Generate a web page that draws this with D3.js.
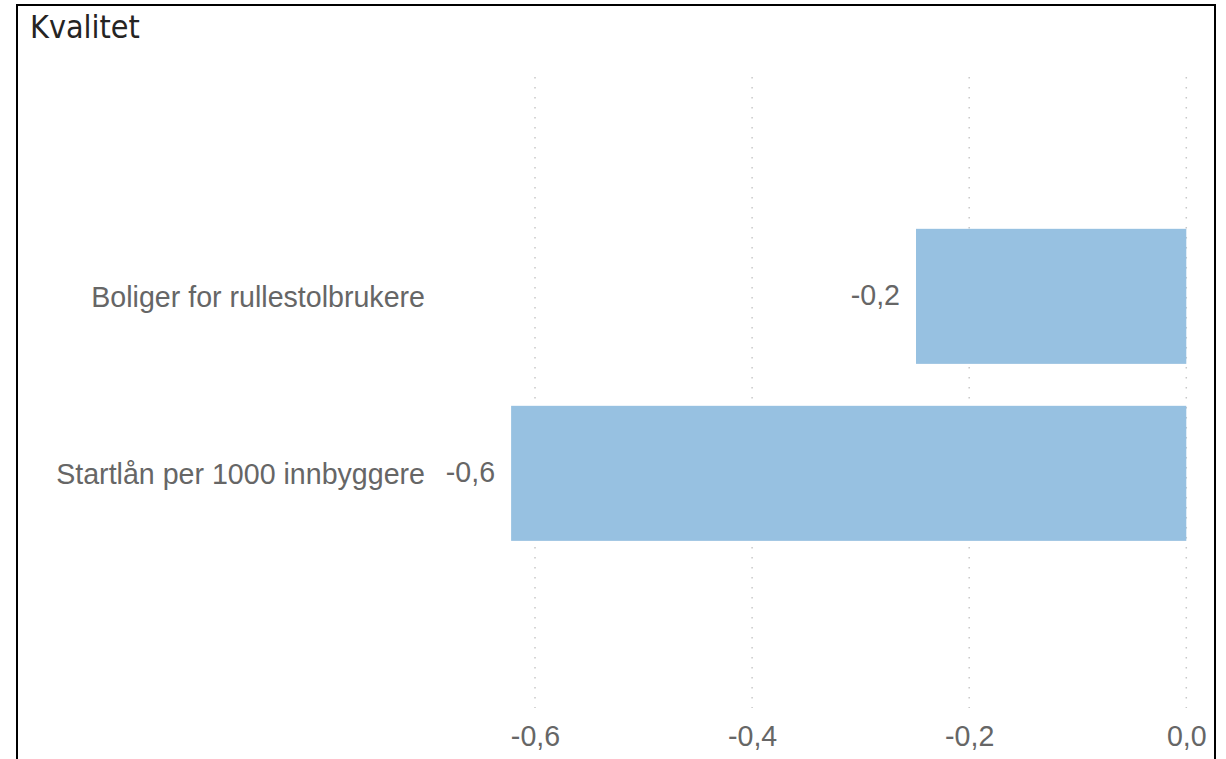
<!DOCTYPE html>
<html>
<head>
<meta charset="utf-8">
<script src="https://cdn.jsdelivr.net/npm/d3@7"></script>
<style>
  html, body { margin: 0; padding: 0; background: #ffffff; }
  svg { display: block; }
</style>
</head>
<body>
<svg id="chart" width="1226" height="759"></svg>
<script>
// Indicator categories and their change values
const categories = ["Boliger for rullestolbrukere", "Startlån per 1000 innbyggere"];
const values = [-0.249, -0.622];
const tickValues = [-0.6, -0.4, -0.2, 0.0];
const title = "Kvalitet";

const W = 1226, H = 759;
const svg = d3.select("#chart");
const labelFont = "'Liberation Sans', Arial, sans-serif";
const labelSize = 28.6;

// Number format with comma as decimal separator
const nb = d3.formatLocale({ decimal: ",", thousands: " ", grouping: [3], currency: ["", " kr"], minus: "-" });
const fmt = nb.format(".1f");

const plot = { left: 535, right: 1186.3, top: 77, bottom: 708 };

const x = d3.scaleLinear()
  .domain([-0.6, 0])
  .range([plot.left, plot.right]);

const y = d3.scaleBand()
  .domain(categories)
  .range([plot.top, plot.bottom])
  .paddingInner(0.237)
  .paddingOuter(0.901)
  .align(0.476);

// Panel frame
svg.append("rect")
  .attr("x", 17).attr("y", 5)
  .attr("width", 1198).attr("height", H + 20)
  .attr("fill", "none")
  .attr("stroke", "#000")
  .attr("stroke-width", 2);

// Title
svg.append("text")
  .attr("x", 30).attr("y", 38)
  .attr("font-family", "'DejaVu Sans Condensed', 'DejaVu Sans', sans-serif")
  .attr("font-size", 32)
  .attr("fill", "#252423")
  .text(title);

// Dotted vertical gridlines
svg.append("g")
  .selectAll("line")
  .data(tickValues)
  .join("line")
  .attr("x1", d => x(d)).attr("x2", d => x(d))
  .attr("y1", plot.top).attr("y2", plot.bottom)
  .attr("stroke", "#c8c8c8")
  .attr("stroke-width", 1.5)
  .attr("stroke-dasharray", "1.5 8.5");

// X axis tick labels
const xAxis = d3.axisBottom(x)
  .tickValues(tickValues)
  .tickFormat(fmt)
  .tickSize(0)
  .tickPadding(0);

const gx = svg.append("g")
  .attr("transform", `translate(0, 720)`)
  .call(xAxis);
gx.select(".domain").remove();
gx.selectAll("text")
  .attr("font-family", labelFont)
  .attr("font-size", labelSize)
  .attr("fill", "#666666")
  .attr("dy", "0.9em");

const data = categories.map((c, i) => ({ cat: c, v: values[i] }));

// Bars
svg.append("g")
  .selectAll("rect")
  .data(data)
  .join("rect")
  .attr("x", d => x(Math.min(0, d.v)))
  .attr("y", d => y(d.cat))
  .attr("width", d => Math.abs(x(d.v) - x(0)))
  .attr("height", y.bandwidth())
  .attr("fill", "#97c1e1");

// Value labels left of each bar
svg.append("g")
  .selectAll("text")
  .data(data)
  .join("text")
  .attr("x", d => x(Math.min(0, d.v)) - 16)
  .attr("y", d => y(d.cat) + y.bandwidth() / 2)
  .attr("dy", "0.3em")
  .attr("text-anchor", "end")
  .attr("font-family", labelFont)
  .attr("font-size", labelSize)
  .attr("fill", "#666666")
  .text(d => fmt(d.v));

// Category labels
const yAxis = d3.axisLeft(y).tickSize(0).tickPadding(0);
const gy = svg.append("g")
  .attr("transform", `translate(425, 0)`)
  .call(yAxis);
gy.select(".domain").remove();
gy.selectAll("text")
  .attr("font-family", labelFont)
  .attr("font-size", labelSize)
  .attr("fill", "#666666")
  .attr("dy", "0.36em");
</script>
</body>
</html>
